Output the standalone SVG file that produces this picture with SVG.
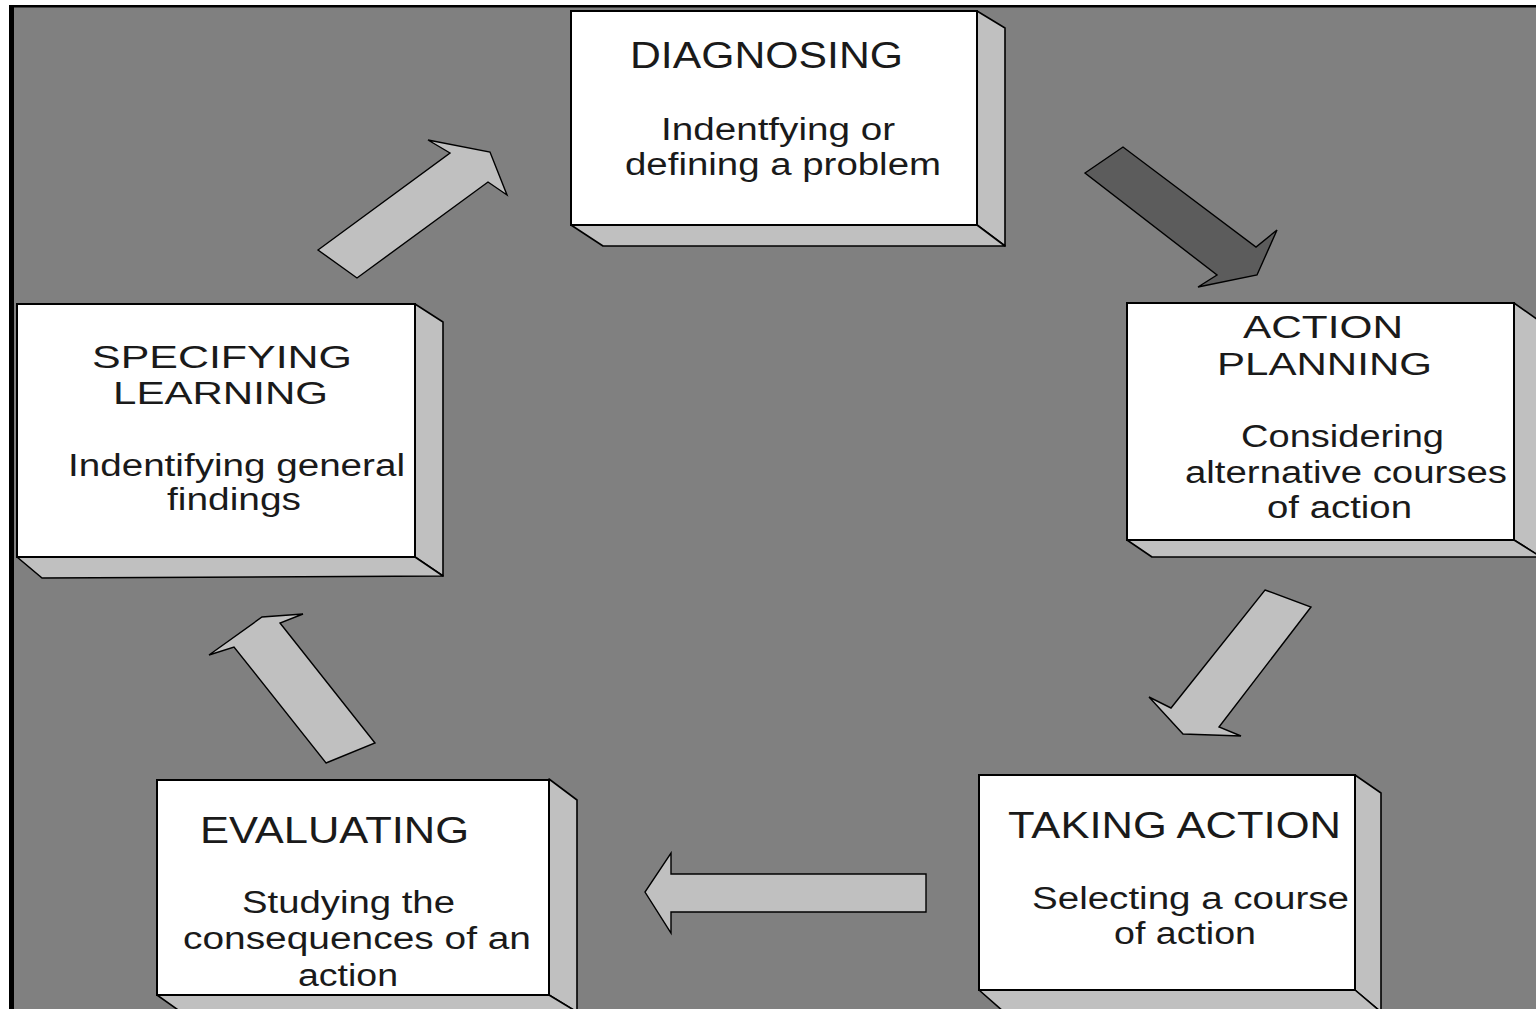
<svg xmlns="http://www.w3.org/2000/svg" width="1536" height="1009" viewBox="0 0 1536 1009">
<defs>
<style>
.front{fill:#ffffff;stroke:#000;stroke-width:2}
.side{fill:#c0c0c0;stroke:#000;stroke-width:1.6;stroke-linejoin:round}
.arrow{fill:#c0c0c0;stroke:#000;stroke-width:1.4;stroke-linejoin:miter}
.dark{fill:#5c5c5c;stroke:#000;stroke-width:1.4}
.t{font-family:"Liberation Sans","DejaVu Sans",Arial,sans-serif;font-size:36px;fill:#1a1a1a}
.t2{font-family:"Liberation Sans","DejaVu Sans",Arial,sans-serif;font-size:32px;fill:#1a1a1a}
.s{font-family:"Liberation Sans","DejaVu Sans",Arial,sans-serif;font-size:31px;fill:#1a1a1a}
</style>
</defs>
<rect x="0" y="0" width="1536" height="1009" fill="#ffffff"/>
<rect x="9" y="5" width="1527" height="1004" fill="#808080"/>
<rect x="9" y="5" width="1527" height="2.5" fill="#000"/>
<rect x="9" y="5" width="5" height="1004" fill="#000"/>

<g id="connectors">
<polygon class="arrow" points="318,250 450,153 428,140 490,152 507,195 488,182 357,278"/>
<polygon class="dark" points="1085,173 1123,147 1256,247 1277,230 1257,275 1198,287 1217,275"/>
<polygon class="arrow" points="1265,590 1311,607 1219,727 1241,736 1183,734 1149,697 1171,708"/>
<polygon class="arrow" points="926,874 926,912 671,912 671,933 645,892 671,853 671,874"/>
<polygon class="arrow" points="326,763 375,743 280,623 303,614 262,617 209,655 234,647"/>
</g>

<g id="diagnosing">
<polygon class="side" points="977,11 1005,28 1005,246 977,225"/>
<polygon class="side" points="571,225 977,225 1005,246 603,246"/>
<rect class="front" x="571" y="11" width="406" height="214"/>
<text class="t" x="630" y="68" textLength="273" lengthAdjust="spacingAndGlyphs">DIAGNOSING</text>
<text class="s" x="661" y="140" textLength="234" lengthAdjust="spacingAndGlyphs">Indentfying or</text>
<text class="s" x="625" y="175" textLength="316" lengthAdjust="spacingAndGlyphs">defining a problem</text>
</g>

<g id="action-planning">
<polygon class="side" points="1514,303 1541,322 1541,557 1514,540"/>
<polygon class="side" points="1127,540 1514,540 1541,557 1152,557"/>
<rect class="front" x="1127" y="303" width="387" height="237"/>
<text class="t2" x="1243" y="338" textLength="160" lengthAdjust="spacingAndGlyphs">ACTION</text>
<text class="t2" x="1217" y="375" textLength="215" lengthAdjust="spacingAndGlyphs">PLANNING</text>
<text class="s" x="1241" y="447" textLength="203" lengthAdjust="spacingAndGlyphs">Considering</text>
<text class="s" x="1185" y="483" textLength="322" lengthAdjust="spacingAndGlyphs">alternative courses</text>
<text class="s" x="1267" y="518" textLength="145" lengthAdjust="spacingAndGlyphs">of action</text>
</g>

<g id="taking-action">
<polygon class="side" points="1355,775 1381,793 1381,1012 1355,990"/>
<polygon class="side" points="979,990 1355,990 1381,1012 1004,1012"/>
<rect class="front" x="979" y="775" width="376" height="215"/>
<text class="t" x="1008" y="838" textLength="333" lengthAdjust="spacingAndGlyphs">TAKING ACTION</text>
<text class="s" x="1032" y="909" textLength="317" lengthAdjust="spacingAndGlyphs">Selecting a course</text>
<text class="s" x="1114" y="944" textLength="142" lengthAdjust="spacingAndGlyphs">of action</text>
</g>

<g id="evaluating">
<polygon class="side" points="549,779 577,800 577,1012 549,995"/>
<polygon class="side" points="157,995 549,995 577,1012 181,1012"/>
<rect class="front" x="157" y="780" width="392" height="215"/>
<text class="t" x="200" y="843" textLength="269" lengthAdjust="spacingAndGlyphs">EVALUATING</text>
<text class="s" x="242" y="913" textLength="213" lengthAdjust="spacingAndGlyphs">Studying the</text>
<text class="s" x="183" y="949" textLength="348" lengthAdjust="spacingAndGlyphs">consequences of an</text>
<text class="s" x="298" y="986" textLength="100" lengthAdjust="spacingAndGlyphs">action</text>
</g>

<g id="specifying-learning">
<polygon class="side" points="415,304 443,322 443,576 415,557"/>
<polygon class="side" points="17,557 415,557 443,576 42,578"/>
<rect class="front" x="17" y="304" width="398" height="253"/>
<text class="t2" x="92" y="368" textLength="260" lengthAdjust="spacingAndGlyphs">SPECIFYING</text>
<text class="t2" x="113" y="404" textLength="215" lengthAdjust="spacingAndGlyphs">LEARNING</text>
<text class="s" x="68" y="476" textLength="337" lengthAdjust="spacingAndGlyphs">Indentifying general</text>
<text class="s" x="167" y="510" textLength="134" lengthAdjust="spacingAndGlyphs">findings</text>
</g>
</svg>
